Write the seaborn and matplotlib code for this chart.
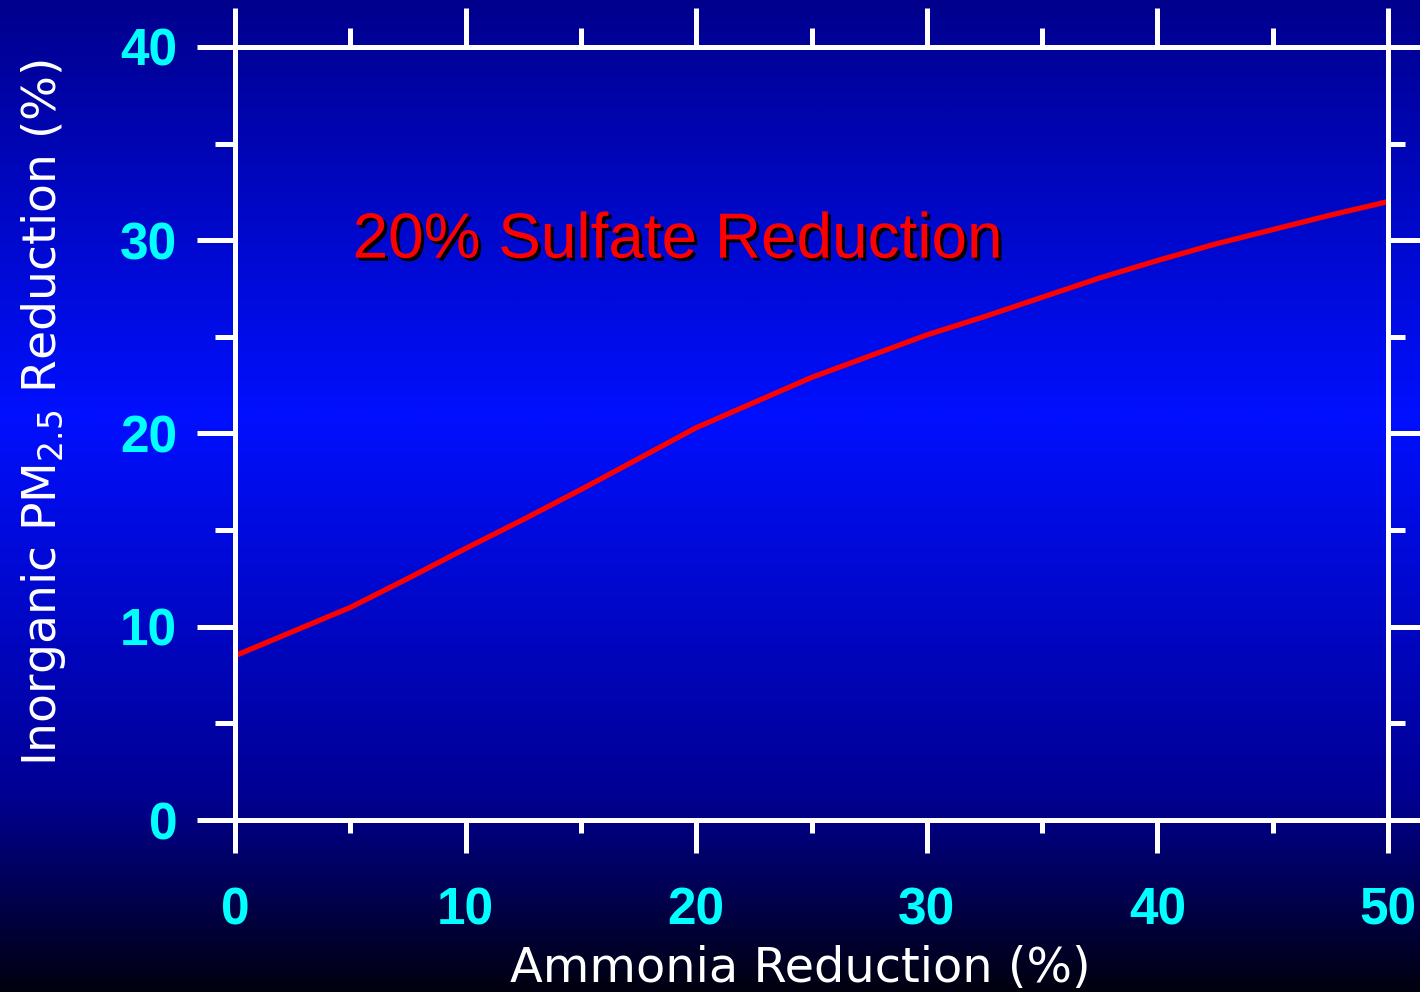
import numpy as np
import pandas as pd
import matplotlib
matplotlib.use("Agg")
import matplotlib.pyplot as plt
import matplotlib.patheffects as pe
from matplotlib.colors import LinearSegmentedColormap
import seaborn as sns

# Response of inorganic PM2.5 to ammonia cuts, with sulfate held at -20%
ammonia_reduction = [0, 2.5, 5, 7.5, 10, 12.5, 15, 17.5, 20, 22.5, 25,
                     27.5, 30, 32.5, 35, 37.5, 40, 42.5, 45, 47.5, 50]
pm_reduction = [8.5, 9.75, 11.0, 12.5, 14.05, 15.55, 17.1, 18.7, 20.3, 21.6, 22.9,
                24.0, 25.1, 26.05, 27.05, 28.05, 28.95, 29.8, 30.55, 31.3, 32.0]
x_ticks = [0, 10, 20, 30, 40, 50]
y_ticks = [0, 10, 20, 30, 40]
curve_label = "20% Sulfate Reduction"

sns.set_theme(style="white")
plt.rcParams["font.family"] = ["Liberation Sans", "DejaVu Sans"]
plt.rcParams["mathtext.fontset"] = "custom"
plt.rcParams["mathtext.rm"] = "DejaVu Sans"
plt.rcParams["mathtext.it"] = "DejaVu Sans"

df = pd.DataFrame({"ammonia": ammonia_reduction, "pm": pm_reduction})

fig = plt.figure(figsize=(14.2, 9.92), dpi=100)

# vertical slide-style backdrop: navy -> bright blue -> near black
bg = fig.add_axes([0, 0, 1, 1], zorder=-10)
cmap = LinearSegmentedColormap.from_list(
    "backdrop",
    [(0.0, (0.0, 0.0, 0.55)),
     (0.42, (0.0, 0.06, 1.0)),
     (0.80, (0.0, 0.0, 0.58)),
     (1.0, (0.0, 0.0, 0.06))],
)
grad = np.linspace(0, 1, 512).reshape(-1, 1)
bg.imshow(grad, cmap=cmap, aspect="auto", extent=[0, 1, 1, 0])
bg.set_axis_off()

ax = fig.add_axes([235 / 1420, 1 - 820 / 992, (1388 - 235) / 1420, (820 - 47) / 992])
ax.patch.set_alpha(0)

sns.lineplot(data=df, x="ammonia", y="pm", ax=ax, color="#ff0000", linewidth=3.8)

ax.set_xlim(0, 50)
ax.set_ylim(0, 40)

lw = 3.6
for side in ["left", "bottom", "top", "right"]:
    ax.spines[side].set_color("white")
    ax.spines[side].set_linewidth(lw)

ax.set_xticks(x_ticks)
ax.set_yticks(y_ticks)
ax.set_xticks([5, 15, 25, 35, 45], minor=True)
ax.set_yticks([5, 15, 25, 35], minor=True)

tick_font = dict(family="Liberation Sans", weight="bold", size=37)
ax.set_xticklabels([str(v) for v in x_ticks], fontdict=tick_font, color="#00ffff")
ax.set_yticklabels([str(v) for v in y_ticks], fontdict=tick_font, color="#00ffff")

ax.tick_params(axis="x", which="major", direction="out", length=24, width=lw,
               color="white", pad=24, bottom=True)
ax.tick_params(axis="x", which="minor", direction="out", length=9.5, width=lw,
               color="white", bottom=True)
ax.tick_params(axis="y", which="major", direction="out", length=27.5, width=lw,
               color="white", pad=14, left=True)
ax.tick_params(axis="y", which="minor", direction="out", length=14.5, width=lw,
               color="white", left=True)

# mirrored ticks on the top and right edges
top = ax.secondary_xaxis("top")
top.set_xticks(x_ticks)
top.set_xticks([5, 15, 25, 35, 45], minor=True)
top.set_xticklabels([])
top.tick_params(axis="x", which="major", direction="out", length=28, width=lw, color="white")
top.tick_params(axis="x", which="minor", direction="out", length=14, width=lw, color="white")
top.spines["top"].set_color("white")
top.spines["top"].set_linewidth(lw)

right = ax.secondary_yaxis("right")
right.set_yticks(y_ticks)
right.set_yticks([5, 15, 25, 35], minor=True)
right.set_yticklabels([])
right.tick_params(axis="y", which="major", direction="out", length=24, width=lw, color="white")
right.tick_params(axis="y", which="minor", direction="out", length=12.5, width=lw, color="white")
right.spines["right"].set_color("white")
right.spines["right"].set_linewidth(lw)

ax.set_xlabel("Ammonia Reduction (%)", color="white", fontsize=34.5,
              family="DejaVu Sans", va="top")
ax.xaxis.set_label_coords(0.49, -0.162)
ax.set_ylabel(r"Inorganic PM$_{2.5}$ Reduction (%)", color="white", fontsize=34,
              family="DejaVu Sans")
ax.yaxis.set_label_coords(-0.145, 0.527)

ax.text(5.1, 29.1, curve_label, color="#ff0000", fontsize=46,
        family="Liberation Sans", ha="left", va="baseline",
        path_effects=[pe.withSimplePatchShadow(offset=(2.2, -2.2),
                                               shadow_rgbFace="black", alpha=1.0)])

fig.savefig("out.png", dpi=100)
